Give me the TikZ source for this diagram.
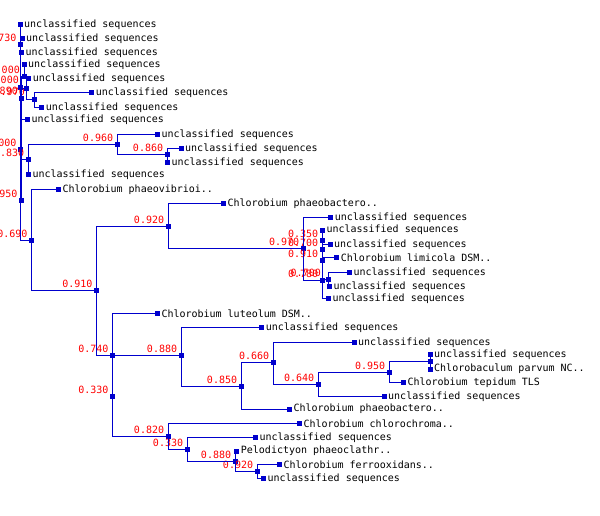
\documentclass[tikz,border=0pt]{standalone}
\usepackage{fontspec}
\newfontfamily\tmono{DejaVu Sans Mono}
\definecolor{tb}{RGB}{0,0,205}
\definecolor{tr}{RGB}{255,0,0}
\tikzset{
  sq/.style={rectangle,fill=tb,draw=none,minimum size=5pt,inner sep=0pt,outer sep=0pt},
  lf/.style={anchor=west,inner sep=0pt,font=\tmono\fontsize{10pt}{12pt}\selectfont,text=black},
  lab/.style={anchor=base east,inner sep=0pt,font=\tmono\fontsize{10pt}{12pt}\selectfont,text=tr},
  br/.style={draw=tb,line width=1pt}
}
\newcommand\myleaf[3]{\node[sq] (#1) at (#2) {}; \node[lf] (#1t) at ([xshift=4pt]#1.center) {#3};}
\newcommand\myint[3]{\node[sq] (#1) at (#2) {}; \node[lab] (#1l) at ([shift={(-4pt,3pt)}]#1.center) {#3};}
\newcommand\mybare[2]{\node[sq] (#1) at (#2) {};}
\def\us{unclassified sequences}
\begin{document}
\begin{tikzpicture}[x=1pt,y=-1pt]
\fill[white] (0,0) rectangle (600,516);
\useasboundingbox (0,0) rectangle (600,516);
% top cluster
\myleaf{L1}{20,24.7}{\us}
\myleaf{L2}{22,38.3}{\us}
\myint{n730}{20.7,45}{0.730}
\myleaf{L3}{21.3,52.7}{\us}
\myleaf{L4}{24,65}{\us}
\myint{na}{24,76.7}{1.000}
\myleaf{L5}{28.7,79}{\us}
\mybare{nb}{20.7,87.7}
\node[lab] (nbl) at (19,84) {1.000};
\mybare{nc}{26.7,89}
\mybare{nd}{34.7,100}
\mybare{ne}{21.3,98.3}
\node[lab] (nel) at (18,95) {0.890};
\node[lab] (ncl) at (25,95.5) {0.970};
\myleaf{L6}{91.7,92.3}{\us}
\myleaf{L7}{41.7,107.3}{\us}
\myleaf{L8}{27.3,120}{\us}
\myint{nk}{20.7,149.3}{1.000}
\myint{n830}{28.3,160}{0.830}
\myleaf{L9}{28.3,175}{\us}
\myint{n960}{117.3,144.3}{0.960}
\myleaf{Lu960}{157.3,134.3}{\us}
\myint{n860}{167.3,155}{0.860}
\myleaf{Lu860a}{181,148.3}{\us}
\myleaf{Lu860b}{167.3,162.7}{\us}
\myint{n950}{21.7,200}{0.950}
\myint{n690}{31.7,240}{0.690}
\myleaf{Lpv}{58.3,189.3}{Chlorobium phaeovibrioi..}
% upper clade
\myint{n910}{96.7,290}{0.910}
\myint{n920}{168.3,226}{0.920}
\myleaf{Lpb1}{223.3,203.3}{Chlorobium phaeobactero..}
\myint{n970}{303.3,248.3}{0.970}
\myleaf{Lr1}{330.7,217.3}{\us}
\myleaf{Lr2}{322.3,230}{\us}
\myint{nr350}{322.3,240}{0.350}
\myleaf{Lr3}{330,244.3}{\us}
\myint{nr700}{322.3,249.3}{0.700}
\myint{nr910}{322.3,260}{0.910}
\myleaf{Llim}{336.7,257.7}{Chlorobium limicola DSM..}
\myint{nr780}{322.3,280}{0.780}
\mybare{nrb}{328.3,279.3}
\node[lab] (nrbl) at (321,276.5) {0.700};
\myleaf{Lr5}{349.3,272.7}{\us}
\myleaf{Lr6}{329.3,286.7}{\us}
\myleaf{Lr7}{328.3,298.3}{\us}
% lower clade
\myint{n740}{112.7,355.5}{0.740}
\myleaf{Llut}{157.3,313.3}{Chlorobium luteolum DSM..}
\myint{n330a}{112.7,396.7}{0.330}
\myint{n880a}{181.3,355.5}{0.880}
\myleaf{Lu880}{261.7,327.7}{\us}
\myint{n850}{241.3,386.3}{0.850}
\myint{n660}{273.3,362.3}{0.660}
\myleaf{Lu660}{354,342.3}{\us}
\myint{n640}{318.3,384}{0.640}
\myint{n950b}{389.3,372.3}{0.950}
\mybare{npv}{430,361.7}
\myleaf{Lu950}{430,354.3}{\us}
\myleaf{Lparv}{430,369}{Chlorobaculum parvum NC..}
\myleaf{Ltep}{403.3,382.3}{Chlorobium tepidum TLS}
\myleaf{Lu640}{384,396.7}{\us}
\myleaf{Lpb2}{289.3,409}{Chlorobium phaeobactero..}
\myint{n820}{168.3,436}{0.820}
\myleaf{Lchl}{299.3,423.3}{Chlorobium chlorochroma..}
\myint{n330b}{187.3,449.3}{0.330}
\myleaf{Lu330}{255.3,437.3}{\us}
\myint{n880b}{235.3,461.3}{0.880}
\myleaf{Lpel}{236.7,451}{Pelodictyon phaeoclathr..}
\myint{n920b}{257.3,471.3}{0.920}
\myleaf{Lfer}{279.3,464.3}{Chlorobium ferrooxidans..}
\myleaf{Lu920}{263.3,478.7}{\us}
% connectors
\draw[br] (L1.center) |- (n690.center);
\draw[br] (n730.center) |- (L2.center);
\draw[br] (n730.center) |- (L3.center);
\draw[br] (L4.center) -- (na.center);
\draw[br] (na.center) |- (L5.center);
\draw[br] (na.center) -| (n950.center);
\draw[br] (L5.center) -| (nc.center);
\draw[br] (nb.center) |- (nc.center);
\draw[br] (nc.center) |- (nd.center);
\draw[br] (nd.center) |- (L6.center);
\draw[br] (nd.center) |- (L7.center);
\draw[br] (ne.center) |- (L8.center);
\draw[br] (nk.center) |- (n830.center);
\draw[br] (n830.center) |- (n960.center);
\draw[br] (n830.center) |- (L9.center);
\draw[br] (n960.center) |- (Lu960.center);
\draw[br] (n960.center) |- (n860.center);
\draw[br] (n860.center) |- (Lu860a.center);
\draw[br] (n860.center) |- (Lu860b.center);
\draw[br] (n690.center) |- (Lpv.center);
\draw[br] (n690.center) |- (n910.center);
\draw[br] (n910.center) |- (n920.center);
\draw[br] (n910.center) |- (n740.center);
\draw[br] (n920.center) |- (Lpb1.center);
\draw[br] (n920.center) |- (n970.center);
\draw[br] (n970.center) |- (Lr1.center);
\draw[br] (n970.center) |- (nr780.center);
\draw[br] (Lr2.center) |- (Lr7.center);
\draw[br] (nr350.center) |- (Lr3.center);
\draw[br] (nr910.center) |- (Llim.center);
\draw[br] (nr780.center) -- (nrb.center);
\draw[br] (nrb.center) |- (Lr5.center);
\draw[br] (nrb.center) |- (Lr6.center);
\draw[br] (n740.center) |- (Llut.center);
\draw[br] (n740.center) -- (n880a.center);
\draw[br] (n740.center) |- (n820.center);
\draw[br] (n880a.center) |- (Lu880.center);
\draw[br] (n880a.center) |- (n850.center);
\draw[br] (n850.center) |- (n660.center);
\draw[br] (n850.center) |- (Lpb2.center);
\draw[br] (n660.center) |- (Lu660.center);
\draw[br] (n660.center) |- (n640.center);
\draw[br] (n640.center) |- (n950b.center);
\draw[br] (n640.center) |- (Lu640.center);
\draw[br] (n950b.center) |- (npv.center);
\draw[br] (n950b.center) |- (Ltep.center);
\draw[br] (Lu950.center) -- (Lparv.center);
\draw[br] (n820.center) |- (Lchl.center);
\draw[br] (n820.center) |- (n330b.center);
\draw[br] (n330b.center) |- (Lu330.center);
\draw[br] (n330b.center) |- (n880b.center);
\draw[br] (n880b.center) |- (Lpel.center);
\draw[br] (n880b.center) |- (n920b.center);
\draw[br] (n920b.center) |- (Lfer.center);
\draw[br] (n920b.center) |- (Lu920.center);
\end{tikzpicture}
\end{document}
